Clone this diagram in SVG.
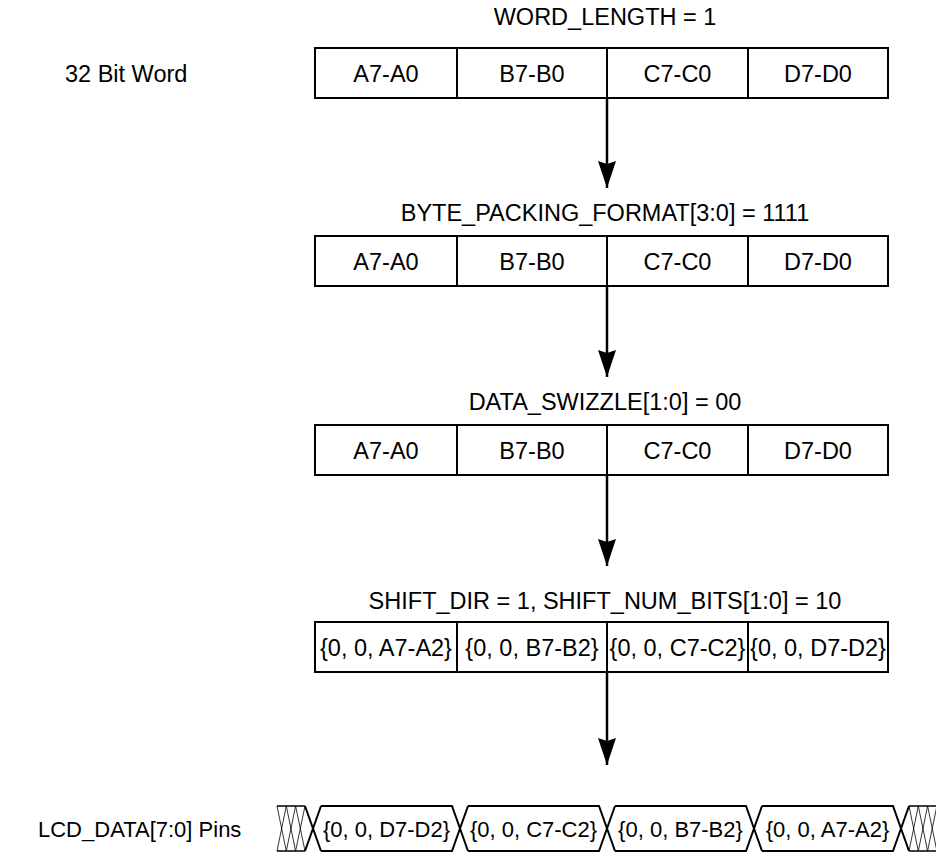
<svg xmlns="http://www.w3.org/2000/svg" width="936" height="855" viewBox="0 0 936 855">
<defs>
<style>
text{font-family:"Liberation Sans",Arial,sans-serif;font-size:23.5px;fill:#000}
.c{text-anchor:middle}
.w{font-size:22px}
.box{fill:#fff;stroke:#000;stroke-width:2}
.div{stroke:#000;stroke-width:2}
.conn{stroke:#000;stroke-width:2.5;fill:none}
.wave{fill:none;stroke:#000;stroke-width:2}
.hatch{fill:none;stroke:#000;stroke-width:0.8}
.hedge{fill:none;stroke:#000;stroke-width:1.6}
</style>
<marker id="ah" markerUnits="userSpaceOnUse" viewBox="0 0 27 18" refX="27" refY="9" markerWidth="27" markerHeight="18" orient="auto">
<path d="M0,0 L3,9 L0,18 L27,9 Z" fill="#000"/>
</marker>
</defs>
<rect width="936" height="855" fill="#fff"/>

<g id="label-32bit"><text x="65" y="82">32 Bit Word</text></g>

<g id="row1">
<text class="c" x="605" y="25">WORD_LENGTH = 1</text>
<rect class="box" x="315" y="48" width="573" height="50"/>
<line class="div" x1="457" y1="48" x2="457" y2="98"/>
<line class="div" x1="607" y1="48" x2="607" y2="98"/>
<line class="div" x1="748" y1="48" x2="748" y2="98"/>
<text class="c" x="386" y="82">A7-A0</text>
<text class="c" x="532" y="82">B7-B0</text>
<text class="c" x="677.5" y="82">C7-C0</text>
<text class="c" x="818" y="82">D7-D0</text>
</g>

<g id="row2">
<text class="c" x="605" y="221">BYTE_PACKING_FORMAT[3:0] = 1111</text>
<rect class="box" x="315" y="236" width="573" height="50"/>
<line class="div" x1="457" y1="236" x2="457" y2="286"/>
<line class="div" x1="607" y1="236" x2="607" y2="286"/>
<line class="div" x1="748" y1="236" x2="748" y2="286"/>
<text class="c" x="386" y="270">A7-A0</text>
<text class="c" x="532" y="270">B7-B0</text>
<text class="c" x="677.5" y="270">C7-C0</text>
<text class="c" x="818" y="270">D7-D0</text>
</g>

<g id="row3">
<text class="c" x="605" y="410">DATA_SWIZZLE[1:0] = 00</text>
<rect class="box" x="315" y="425" width="573" height="50"/>
<line class="div" x1="457" y1="425" x2="457" y2="475"/>
<line class="div" x1="607" y1="425" x2="607" y2="475"/>
<line class="div" x1="748" y1="425" x2="748" y2="475"/>
<text class="c" x="386" y="459">A7-A0</text>
<text class="c" x="532" y="459">B7-B0</text>
<text class="c" x="677.5" y="459">C7-C0</text>
<text class="c" x="818" y="459">D7-D0</text>
</g>

<g id="row4">
<text class="c" x="605" y="609">SHIFT_DIR = 1, SHIFT_NUM_BITS[1:0] = 10</text>
<rect class="box" x="315" y="622" width="573" height="50"/>
<line class="div" x1="457" y1="622" x2="457" y2="672"/>
<line class="div" x1="607" y1="622" x2="607" y2="672"/>
<line class="div" x1="748" y1="622" x2="748" y2="672"/>
<text class="c" x="386" y="656">{0, 0, A7-A2}</text>
<text class="c" x="532" y="656">{0, 0, B7-B2}</text>
<text class="c" x="677.5" y="656">{0, 0, C7-C2}</text>
<text class="c" x="818" y="656">{0, 0, D7-D2}</text>
</g>

<g id="connectors">
<line class="conn" x1="607" y1="98" x2="607" y2="188" marker-end="url(#ah)"/>
<line class="conn" x1="607" y1="286" x2="607" y2="377" marker-end="url(#ah)"/>
<line class="conn" x1="607" y1="475" x2="607" y2="566" marker-end="url(#ah)"/>
<line class="conn" x1="607" y1="672" x2="607" y2="765" marker-end="url(#ah)"/>
</g>

<g id="lcd-label"><text class="w" x="38" y="837">LCD_DATA[7:0] Pins</text></g>

<g id="waveform">
<path class="hedge" d="M277,806 H305 M277,851 H305 M909,806 H936 M909,851 H936"/>
<path class="hatch" d="M277,806 L286.3,851 M286.3,806 L277,851 M286.3,806 L295.6,851 M295.6,806 L286.3,851 M295.6,806 L305,851 M305,806 L295.6,851"/>
<path class="hatch" d="M909,806 L918.3,851 M918.3,806 L909,851 M918.3,806 L927.6,851 M927.6,806 L918.3,851 M927.6,806 L936.9,851 M936.9,806 L927.6,851"/>
<path class="wave" d="M305,806 L321,851 M305,851 L321,806"/>
<path class="wave" d="M321,806 H452 L468,851 M321,851 H452 L468,806"/>
<path class="wave" d="M468,806 H599 L615,851 M468,851 H599 L615,806"/>
<path class="wave" d="M615,806 H746 L762,851 M615,851 H746 L762,806"/>
<path class="wave" d="M762,806 H893 L909,851 M762,851 H893 L909,806"/>
<text class="c w" x="386.5" y="836.5">{0, 0, D7-D2}</text>
<text class="c w" x="533.5" y="836.5">{0, 0, C7-C2}</text>
<text class="c w" x="680.5" y="836.5">{0, 0, B7-B2}</text>
<text class="c w" x="827.5" y="836.5">{0, 0, A7-A2}</text>
</g>
</svg>
